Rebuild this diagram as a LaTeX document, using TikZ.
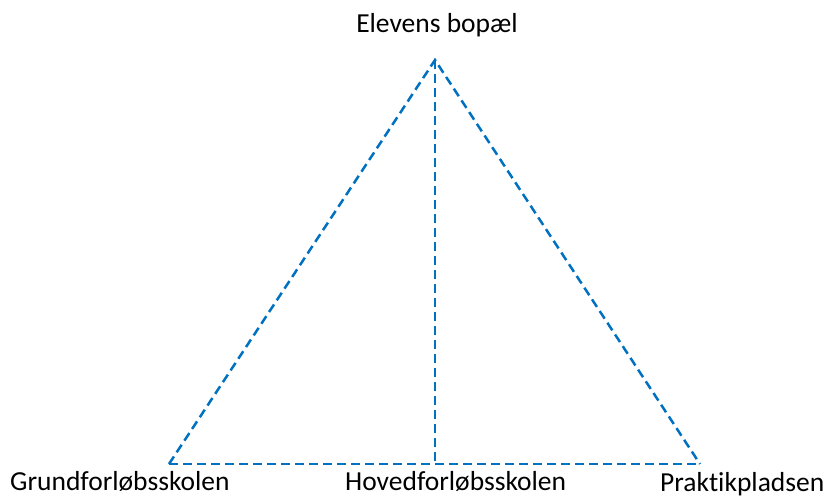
\documentclass[tikz,border=0pt]{standalone}
\usepackage{fontspec}
\setmainfont[RawFeature=-liga]{Carlito}
\usepackage{tikz}
\definecolor{linkblue}{RGB}{0,112,192}
\tikzstyle{link}=[draw=linkblue, line width=2.5pt, dash pattern=on 9pt off 5pt]
\tikzstyle{place}=[inner sep=0pt, font=\fontsize{27.5}{32}\selectfont]

\begin{document}
\begin{tikzpicture}[x=1pt, y=-1pt]
        \useasboundingbox (0, 0) rectangle (827, 497);
        \coordinate (home) at (435, 60);
        \coordinate (basic) at (169, 464);
        \coordinate (main) at (435, 464);
        \coordinate (practice) at (700, 464);
        \node[place, anchor=base] (homelbl) at (437, 33) {Elevens bopæl};
        \node[place, anchor=base west] (basiclbl) at (10, 490) {Grundforløbsskolen};
        \node[place, anchor=base west] (mainlbl) at (345, 490) {Hovedforløbsskolen};
        \node[place, anchor=base west] (practicelbl) at (660, 491) {Praktikpladsen};
        \draw[link] (basic) -- (home) -- (practice);
        \draw[link] (basic) -- (practice);
        \draw[link] (home) -- (main);
    \end{tikzpicture}
\end{document}
